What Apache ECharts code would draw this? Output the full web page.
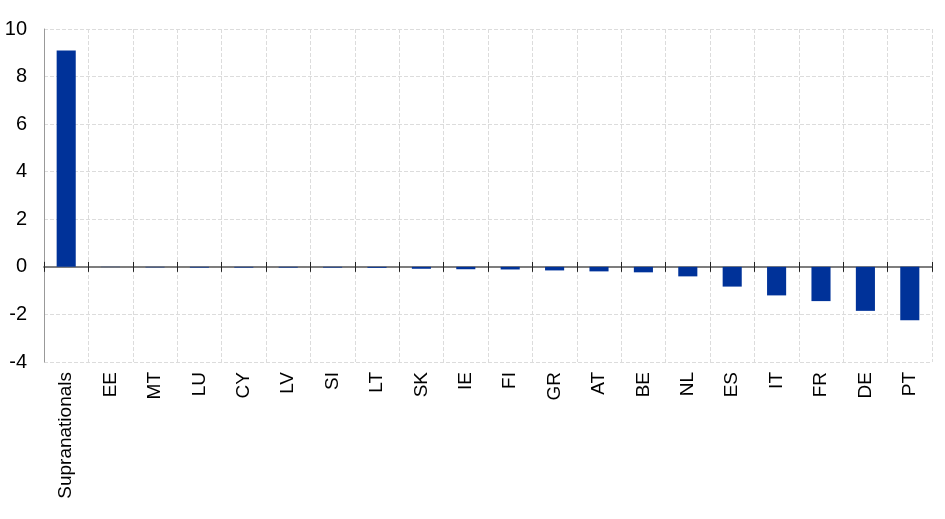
<!DOCTYPE html>
<html><head><meta charset="utf-8">
<script src="https://cdn.jsdelivr.net/npm/echarts@6/dist/echarts.min.js"></script>
<style>html,body{margin:0;padding:0;background:#fff}#c{width:945px;height:519px}</style>
</head><body><div id="c"></div>
<script>
const categories = ["Supranationals","EE","MT","LU","CY","LV","SI","LT","SK","IE","FI","GR","AT","BE","NL","ES","IT","FR","DE","PT"];
const values = [9.1,-0.01,-0.02,-0.03,-0.03,-0.03,-0.03,-0.04,-0.08,-0.1,-0.11,-0.15,-0.19,-0.23,-0.4,-0.83,-1.2,-1.44,-1.85,-2.24];
const yTicks = {min:-4, max:10, interval:2};

const H = 519, gridTop = 29, gridBottom = 157;
const plotH = H - gridTop - gridBottom;
const zeroFromBottom = plotH * (0 - yTicks.min) / (yTicks.max - yTicks.min);

const chart = echarts.init(document.getElementById('c'), null, {renderer:'canvas'});
const ff = 'Liberation Sans, Arial, sans-serif';
const gridBox = {left:44, right:13, top:gridTop, bottom:gridBottom, containLabel:false, outerBoundsMode:'none'};
const tickAxis = (gi, inside) => ({
  type:'category', data:categories, gridIndex:gi, position:'bottom',
  axisLine:{show:true, onZero:true, lineStyle:{color:'#777', width:1.5}},
  axisTick:{show:true, inside:inside, length:5, interval:0, lineStyle:{color:'#222', width:1}},
  axisLabel:{show:false}, splitLine:{show:false}
});
const hiddenY = (gi) => ({type:'value', gridIndex:gi, min:yTicks.min, max:yTicks.max, interval:yTicks.interval,
  axisLine:{show:false}, axisTick:{show:false}, axisLabel:{show:false}, splitLine:{show:false}});
chart.setOption({
  animation:false,
  grid:[Object.assign({}, gridBox), Object.assign({}, gridBox), Object.assign({}, gridBox)],
  xAxis:[
    {type:'category', data:categories, gridIndex:0, position:'bottom',
     axisLine:{show:false, onZero:false}, axisTick:{show:false},
     axisLabel:{rotate:90, margin:10, interval:0, fontFamily:ff, fontSize:19, color:'#000'},
     splitLine:{show:true, interval:0, lineStyle:{type:'dashed', color:'#dcdcdc'}}},
    tickAxis(1, true),
    tickAxis(2, false)
  ],
  yAxis:[
    {type:'value', gridIndex:0, min:yTicks.min, max:yTicks.max, interval:yTicks.interval,
     axisLine:{show:true, lineStyle:{color:'#999'}}, axisTick:{show:false},
     axisLabel:{margin:17, fontFamily:ff, fontSize:20, color:'#000'},
     splitLine:{show:true, lineStyle:{type:'dashed', color:'#dcdcdc'}}},
    hiddenY(1),
    hiddenY(2)
  ],
  series:[{type:'bar', data:values, xAxisIndex:0, yAxisIndex:0, barWidth:'43%', z:2,
    itemStyle:{color:'#003299'}}]
});
</script></body></html>
